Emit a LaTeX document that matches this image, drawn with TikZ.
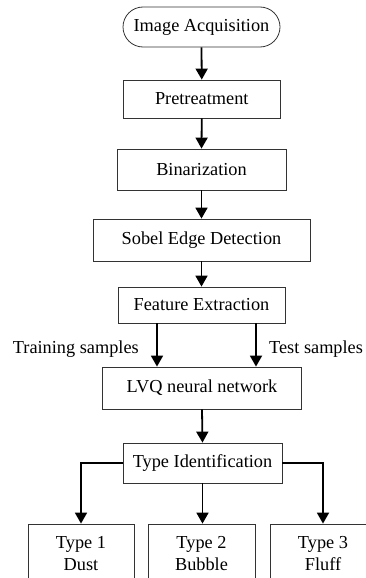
\documentclass[tikz,border=0pt]{standalone}
\usepackage{fontspec}
\setmainfont{Liberation Serif}
\usetikzlibrary{arrows.meta,shapes.misc}
\begin{document}
\begin{tikzpicture}[x=1pt,y=1pt,
  box/.style={draw=black!80, line width=0.8pt, inner sep=0pt, align=center,
    font=\fontsize{18.3}{22}\selectfont},
  flow/.style={line width=1.8pt, -{Triangle[width=12pt,length=11pt]}},
  lbl/.style={inner sep=0pt, font=\fontsize{18.3}{22}\selectfont}]
\useasboundingbox (0,0) rectangle (366,-578);
\clip (0,0) rectangle (366,-578);

% main chain
\node[box, rounded rectangle, minimum width=157pt, minimum height=40pt] (acq) at (201.5,-27) {Image Acquisition};
\node[box, minimum width=156.5pt, minimum height=38pt] (pre) at (201.75,-99) {Pretreatment};
\node[box, minimum width=169pt, minimum height=41pt] (bin) at (201.5,-169.5) {Binarization};
\node[box, minimum width=217pt, minimum height=42pt] (sob) at (201.5,-240) {Sobel Edge Detection};
\node[box, minimum width=167pt, minimum height=36pt] (fea) at (201.5,-305) {Feature Extraction};
\node[box, minimum width=199pt, minimum height=42pt] (lvq) at (202,-388) {LVQ neural network};
\node[box, minimum width=159pt, minimum height=40pt] (tid) at (202.5,-463) {Type Identification};

% result boxes
\node[box, minimum width=106pt, minimum height=60pt] (t1) at (81,-554) {Type 1\\Dust};
\node[box, minimum width=107pt, minimum height=60pt] (t2) at (201.5,-554) {Type 2\\Bubble};
\node[box, minimum width=106pt, minimum height=60pt] (t3) at (323,-554) {Type 3\\Fluff};

% sample labels
\node[lbl, anchor=base east] (trn) at (139,-353) {Training samples};
\node[lbl, anchor=base west] (tst) at (269,-353) {Test samples};

% connectors
\draw[flow] (acq.south) -- (pre.north);
\draw[flow] (pre.south) -- (bin.north);
\draw[flow] (bin.south) -- (sob.north);
\draw[flow] (sob.south) -- (fea.north);
\draw[flow] ([xshift=-44.5pt]fea.south) -- ([xshift=-44.5pt]fea.south |- lvq.north);
\draw[flow] ([xshift=54.5pt]fea.south) -- ([xshift=54.5pt]fea.south |- lvq.north);
\draw[flow] (lvq.south) -- (tid.north);
\draw[flow] (tid.west) -| (t1.north);
\draw[flow] (tid.south) -- (tid.south |- t2.north);
\draw[flow] (tid.east) -| (t3.north);
\end{tikzpicture}
\end{document}
